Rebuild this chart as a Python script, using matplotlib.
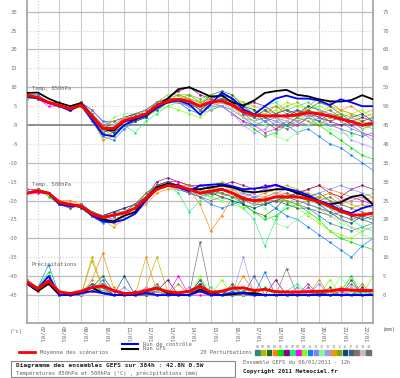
import matplotlib
matplotlib.use("Agg")
import matplotlib.pyplot as plt
from matplotlib.lines import Line2D
from matplotlib.patches import Rectangle

# run hours 0..384 every 12h (06/01 12h -> 22/01 12h)
hours = list(range(0, 385, 12))
days = ['07/01', '08/01', '09/01', '10/01', '11/01', '12/01', '13/01', '14/01',
        '15/01', '16/01', '17/01', '18/01', '19/01', '20/01', '21/01', '22/01']

# --- Temp 850hPa
t850_mean = [7.9, 7.3, 6.0, 5.2, 4.3, 5.3, 2.3, -0.9, -0.9, 1.2, 2.0, 2.9, 5.2, 6.3, 6.8, 6.3, 5.0,
             6.1, 6.4, 5.3, 3.5, 2.6, 2.4, 2.4, 2.4, 2.7, 3.3, 3.0, 2.4, 1.6, 0.9, 0.0, 0.4]
t850_ctrl = [7.5, 7.0, 5.8, 5.0, 3.8, 5.5, 1.5, -2.5, -3.0, 0.0, 1.5, 2.5, 4.5, 6.0, 6.5, 5.5, 2.8,
             5.5, 8.6, 7.0, 4.2, 2.8, 5.0, 7.0, 7.8, 7.0, 7.0, 6.5, 5.3, 6.8, 6.0, 5.0, 5.0]
t850_gfs = [8.5, 8.6, 7.0, 5.8, 5.0, 5.8, 2.5, -1.0, -1.5, 1.0, 1.5, 2.5, 5.0, 7.0, 9.5, 10.0, 8.8,
            7.5, 7.8, 6.0, 5.2, 6.5, 8.5, 9.0, 9.3, 8.0, 7.6, 6.8, 6.3, 6.2, 6.6, 7.9, 6.8]
t850_members = [
    [8, 7, 6, 5, 4, 6, 3, -1, -1, 1, 2, 3, 5, 7, 7, 6, 4, 6, 7, 5, 3, 1, 2, 1, 0, 2, 3, 1, 0, -1, -2, -3, -2],
    [8, 7, 6, 5, 4, 5, 1, -3, -2, 0, 1, 2, 4, 6, 8, 7, 6, 7, 8, 7, 6, 5, 4, 3, 5, 6, 4, 3, 5, 4, 3, 2, 3],
    [8, 7, 6, 5, 5, 5, 2, 0, 0, 2, 3, 3, 6, 7, 6, 5, 5, 8, 9, 8, 5, 3, 1, -1, 0, 2, 4, 6, 5, 3, 1, -1, 0],
    [8, 8, 6, 5, 4, 6, 3, -1, -3, 1, 2, 4, 6, 8, 8, 7, 4, 5, 6, 5, 2, 1, 3, 5, 4, 2, 5, 7, 6, 4, 5, 3, 4],
    [7, 7, 6, 5, 4, 5, 2, -2, -1, 1, 3, 3, 5, 6, 7, 8, 6, 4, 5, 3, 1, -1, -3, -2, 0, 1, 2, 0, -2, -4, -6, -8, -9],
    [8, 7, 6, 6, 5, 6, 4, 1, 1, 2, 3, 4, 6, 7, 9, 10, 8, 7, 8, 6, 5, 6, 5, 3, 2, 4, 3, 2, 1, 0, 1, 2, 1],
    [8, 7, 6, 5, 4, 5, 2, -1, -2, 0, -2, 1, 3, 5, 6, 5, 6, 8, 7, 5, 4, 3, 5, 6, 4, 5, 6, 4, 2, 3, 1, 0, -1],
    [8, 7, 5, 5, 4, 5, 3, 0, -1, 2, 2, 3, 5, 6, 7, 6, 5, 6, 5, 3, 1, 0, -2, -1, 1, 0, 2, 3, 1, 2, 0, -2, -3],
    [8, 7, 6, 5, 5, 6, 3, -2, -3, 0, 1, 2, 4, 5, 4, 3, 2, 4, 6, 7, 6, 4, 3, 4, 6, 5, 4, 5, 4, 2, 3, 4, 2],
    [8, 8, 6, 5, 4, 5, 1, -3, -4, -1, 1, 2, 5, 7, 6, 4, 3, 5, 5, 4, 2, 0, 1, 2, 0, -2, -1, -3, -5, -6, -8, -10, -12],
    [8, 7, 6, 5, 4, 6, 4, 1, 0, 1, 2, 3, 5, 6, 7, 7, 5, 6, 7, 6, 3, 2, 1, 3, 2, 1, 0, 2, 3, 1, -1, -2, -4],
    [8, 7, 6, 5, 4, 5, 2, -1, 2, 3, 3, 4, 6, 8, 8, 6, 4, 5, 6, 4, 2, 1, 0, -3, -4, -2, 0, 1, -1, -2, -3, -1, 0],
    [8, 7, 6, 5, 4, 6, 3, -1, -2, 1, 2, 4, 5, 6, 7, 5, 3, 4, 5, 3, 0, -2, -1, 1, 2, 1, 3, 2, 0, -1, -4, -5, -6],
    [8, 7, 6, 5, 4, 5, 2, -4, -3, 0, 1, 3, 5, 6, 7, 7, 6, 7, 6, 5, 4, 3, 3, 2, 1, 3, 4, 3, 2, 4, 3, 1, 2],
    [8, 7, 6, 5, 4, 5, 3, 0, 1, 2, 2, 3, 5, 7, 8, 8, 7, 8, 7, 6, 4, 2, 4, 5, 3, 2, 1, 0, 2, 3, 2, 1, 0],
    [8, 7, 6, 5, 4, 5, 2, -1, -2, 0, 1, 2, 5, 6, 6, 5, 5, 6, 8, 7, 5, 4, 2, 3, 4, 3, 5, 4, 3, 1, 2, 3, 1],
    [8, 7, 6, 5, 4, 6, 2, -2, -1, 1, 2, 3, 4, 6, 7, 6, 4, 6, 7, 6, 3, 2, 4, 2, 3, 4, 2, 1, 3, 2, 0, 1, 2],
    [8, 7, 6, 5, 4, 6, 3, 0, -1, 1, 3, 4, 6, 7, 7, 6, 5, 7, 6, 5, 3, 3, 2, 0, -1, 0, 2, 3, 4, 2, 1, 0, 1],
    [8, 7, 6, 5, 4, 5, 2, -1, 0, 2, 2, 3, 5, 6, 6, 5, 5, 5, 6, 4, 2, 1, 3, 2, 1, 3, 2, 4, 3, 1, 2, 0, -1],
    [8, 7, 6, 5, 4, 5, 2, -2, -1, 1, 2, 3, 5, 7, 7, 6, 4, 6, 7, 6, 4, 3, 2, 3, 4, 3, 4, 2, 1, 2, 1, 0, 1],
]

# --- Temp 500hPa
t500_mean = [-18, -17.5, -18, -20.5, -21, -21.5, -23.5, -24.5, -23.8, -23.3, -22, -19.5, -17, -16, -16.2,
             -17, -18, -17.5, -17, -18, -19.5, -20, -19.8, -19, -19, -19, -19.5, -20.3, -21.5, -22.8,
             -23.8, -23.8, -23.3]
t500_ctrl = [-18, -17.5, -18.2, -21, -21.5, -21.5, -24, -25.5, -25.8, -25, -23.5, -20, -17, -16, -16.5,
             -17.5, -16, -15.8, -15.6, -16.2, -17, -16.8, -16.5, -15.8, -16.8, -17.5, -18.5, -20, -21,
             -22.5, -23.3, -22, -21.2]
t500_gfs = [-18, -17.5, -18, -20.5, -21, -21.5, -23.5, -25, -25.5, -24, -23, -19.5, -16.5, -15.5, -16,
            -17, -17, -16.5, -16, -16.5, -17.5, -17.8, -17.5, -17, -17, -18, -19, -20.5, -21, -20.5,
            -19, -18.5, -21]
t500_members = [
    [-18, -17, -18, -21, -21, -21, -23, -24, -24, -23, -22, -19, -16, -15, -16, -17, -18, -17, -17, -18, -20, -21, -20, -19, -20, -21, -22, -24, -26, -27, -28, -27, -26],
    [-18, -18, -18, -20, -21, -22, -24, -25, -24, -23, -21, -18, -16, -15, -15, -16, -17, -16, -15, -16, -17, -18, -17, -17, -16, -17, -18, -19, -18, -19, -20, -19, -18],
    [-18, -17, -18, -21, -21, -21, -23, -24, -23, -23, -22, -20, -17, -16, -16, -17, -18, -19, -17, -18, -21, -23, -24, -22, -19, -18, -19, -18, -20, -22, -24, -25, -24],
    [-18, -17, -18, -20, -20, -21, -23, -25, -26, -24, -22, -18, -16, -15, -16, -17, -21, -28, -24, -19, -18, -19, -18, -17, -17, -18, -17, -16, -17, -18, -19, -20, -19],
    [-18, -17, -19, -21, -21, -22, -24, -24, -24, -23, -22, -20, -17, -16, -17, -18, -18, -17, -18, -19, -21, -23, -25, -24, -22, -21, -23, -25, -28, -30, -31, -32, -33],
    [-17, -17, -18, -21, -22, -21, -23, -24, -23, -22, -21, -19, -15, -14, -15, -16, -16, -17, -16, -15, -16, -17, -16, -16, -17, -18, -17, -16, -18, -19, -17, -16, -17],
    [-18, -17, -18, -21, -21, -21, -24, -25, -24, -24, -23, -20, -17, -16, -18, -23, -20, -18, -19, -20, -22, -25, -32, -25, -21, -19, -20, -21, -22, -24, -25, -27, -28],
    [-18, -18, -18, -21, -21, -22, -23, -24, -25, -24, -22, -19, -16, -15, -15, -16, -17, -16, -17, -18, -19, -18, -17, -16, -17, -18, -19, -20, -21, -20, -19, -20, -21],
    [-18, -17, -18, -20, -21, -21, -23, -25, -24, -23, -21, -18, -16, -15, -16, -17, -18, -19, -20, -21, -22, -21, -20, -19, -20, -22, -24, -26, -28, -29, -30, -28, -27],
    [-18, -17, -18, -21, -21, -21, -24, -26, -25, -24, -22, -20, -17, -16, -16, -17, -19, -21, -22, -21, -20, -19, -20, -22, -24, -25, -27, -29, -31, -33, -35, -32, -30],
    [-18, -17, -18, -21, -21, -21, -23, -24, -23, -22, -21, -19, -16, -16, -17, -18, -17, -16, -17, -18, -18, -19, -19, -18, -17, -18, -19, -18, -17, -16, -17, -18, -19],
    [-18, -17, -18, -21, -21, -22, -23, -24, -24, -23, -22, -20, -17, -16, -16, -17, -18, -19, -20, -19, -18, -20, -22, -26, -27, -25, -23, -22, -24, -26, -27, -29, -30],
    [-18, -17, -18, -21, -21, -21, -23, -25, -25, -24, -22, -19, -16, -15, -16, -17, -16, -16, -17, -17, -18, -18, -17, -18, -19, -20, -21, -22, -23, -21, -20, -19, -21],
    [-18, -17, -18, -20, -21, -21, -24, -25, -27, -25, -23, -21, -18, -17, -17, -17, -18, -17, -16, -17, -19, -20, -19, -18, -18, -19, -20, -19, -18, -20, -21, -22, -20],
    [-18, -17, -18, -21, -21, -21, -23, -24, -24, -23, -22, -20, -17, -16, -16, -16, -17, -18, -18, -19, -19, -20, -21, -20, -20, -21, -20, -19, -20, -21, -22, -21, -22],
    [-18, -17, -18, -21, -21, -22, -24, -24, -23, -22, -21, -19, -16, -15, -16, -17, -18, -18, -19, -20, -21, -22, -21, -20, -19, -18, -19, -21, -23, -25, -26, -24, -25],
    [-18, -17, -18, -21, -21, -21, -23, -25, -24, -23, -22, -19, -17, -16, -16, -18, -19, -18, -17, -18, -20, -21, -21, -20, -21, -22, -22, -23, -24, -23, -24, -25, -26],
    [-18, -17, -18, -20, -21, -21, -23, -24, -24, -23, -21, -18, -16, -16, -17, -18, -19, -20, -19, -18, -19, -20, -20, -19, -18, -19, -20, -20, -19, -21, -22, -23, -24],
    [-18, -17, -18, -21, -21, -21, -24, -25, -25, -24, -22, -20, -17, -16, -17, -17, -18, -17, -17, -18, -20, -21, -20, -19, -19, -20, -21, -22, -24, -25, -27, -28, -27],
    [-18, -17, -18, -21, -22, -21, -23, -24, -24, -23, -22, -19, -16, -16, -16, -17, -18, -18, -18, -19, -20, -20, -20, -20, -19, -20, -21, -22, -23, -24, -25, -24, -23],
]

# --- Precipitations (mm)
pr_mean = [3.4, 1.6, 3.7, 0.8, 0.4, 1.0, 2.0, 2.4, 1.2, 0.4, 0.5, 1.2, 1.8, 0.9, 0.6, 1.0, 2.3,
           0.7, 1.0, 1.8, 1.9, 1.2, 1.5, 0.9, 0.8, 0.8, 0.9, 1.0, 1.1, 1.5, 1.3, 1.2, 1.2]
pr_ctrl = [3, 1.5, 5, 0, 0, 0.5, 1, 0.5, 0, 0, 0, 0.5, 0, 0, 0, 0, 1, 0, 0, 0.5, 0.5, 0, 0, 0, 0,
           0, 0, 0, 0, 0, 0, 0, 0]
pr_gfs = [3, 1, 3, 0, 0, 0.5, 2, 0.5, 0, 0, 0, 1, 2, 0.5, 0, 0, 1.5, 0.5, 0, 0.2, 0.5, 0.5, 0, 0, 0,
          0, 0, 0.2, 0, 0, 0, 0, 0]
pr_members = [
    [3, 2, 5, 0, 0, 1, 3, 1, 0, 0, 0, 1, 2, 0, 0, 0, 4, 0, 0, 1, 0, 0, 0, 0, 0, 0, 0, 0, 1, 0, 0, 0, 0],
    [3, 1, 4, 0, 0, 0, 10, 2, 0, 0, 0, 2, 10, 1, 0, 0, 2, 0, 1, 0, 2, 0, 0, 0, 0, 1, 0, 0, 0, 0, 0, 1, 0],
    [4, 2, 4, 1, 0, 1, 2, 5, 1, 0, 0, 0, 1, 0, 0, 0, 2, 1, 0, 3, 0, 0, 0, 0, 1, 0, 0, 0, 2, 0, 4, 0, 0],
    [3, 1, 3, 0, 0, 0, 4, 11, 2, 0, 0, 0, 2, 0, 0, 1, 3, 0, 0, 0, 5, 1, 0, 0, 0, 0, 0, 0, 0, 2, 0, 0, 0],
    [3, 2, 6, 0, 0, 1, 1, 2, 0, 0, 0, 1, 0, 0, 0, 0, 1, 0, 0, 1, 0, 0, 2, 0, 0, 0, 0, 0, 0, 1, 5, 0, 1],
    [4, 1, 3, 0, 0, 0, 2, 1, 0, 0, 1, 0, 1, 4, 0, 0, 3, 0, 0, 0, 1, 0, 0, 4, 0, 0, 0, 1, 0, 0, 0, 2, 0],
    [3, 2, 4, 0, 0, 1, 3, 2, 0, 0, 0, 1, 2, 0, 0, 0, 1, 2, 0, 0, 0, 0, 0, 0, 1, 3, 0, 0, 0, 0, 1, 0, 0],
    [3, 1, 5, 0, 0, 0, 1, 3, 1, 0, 0, 2, 0, 0, 5, 0, 0, 0, 0, 0, 0, 0, 0, 0, 0, 0, 2, 0, 0, 1, 0, 0, 0],
    [3, 2, 4, 1, 0, 0, 2, 1, 0, 0, 0, 0, 2, 1, 0, 0, 5, 0, 4, 0, 0, 0, 0, 1, 0, 0, 0, 0, 4, 0, 0, 0, 5],
    [4, 2, 8, 0, 0, 1, 1, 4, 0, 0, 0, 1, 1, 0, 0, 0, 2, 0, 0, 1, 0, 0, 6, 0, 0, 0, 0, 0, 0, 0, 0, 1, 0],
    [3, 1, 4, 0, 0, 0, 3, 2, 0, 2, 0, 1, 0, 0, 0, 2, 1, 0, 0, 0, 0, 0, 0, 0, 0, 2, 0, 3, 0, 0, 0, 0, 0],
    [3, 2, 3, 0, 0, 1, 2, 3, 0, 0, 0, 0, 2, 0, 0, 0, 3, 0, 0, 0, 2, 0, 0, 0, 0, 0, 1, 0, 0, 5, 0, 0, 1],
    [3, 1, 5, 0, 0, 0, 2, 1, 1, 0, 0, 0, 1, 0, 0, 0, 2, 0, 0, 0, 10, 0, 0, 0, 0, 0, 0, 0, 0, 0, 2, 0, 0],
    [4, 2, 4, 0, 0, 0, 9, 2, 0, 0, 0, 10, 1, 0, 0, 0, 1, 0, 1, 0, 0, 0, 0, 0, 0, 0, 0, 4, 0, 0, 0, 0, 0],
    [3, 1, 3, 0, 0, 1, 1, 2, 0, 0, 0, 0, 2, 0, 3, 0, 2, 0, 0, 0, 0, 1, 0, 0, 0, 0, 0, 0, 1, 0, 0, 3, 0],
    [3, 2, 5, 0, 0, 0, 2, 1, 0, 5, 0, 1, 0, 0, 0, 0, 3, 0, 0, 2, 0, 0, 0, 0, 0, 0, 0, 0, 0, 0, 0, 0, 0],
    [3, 1, 4, 1, 0, 0, 3, 2, 0, 0, 0, 0, 1, 0, 0, 0, 4, 0, 0, 0, 0, 5, 0, 0, 0, 0, 0, 0, 0, 0, 0, 0, 0],
    [4, 2, 4, 0, 0, 1, 1, 3, 0, 0, 0, 0, 0, 0, 0, 0, 1, 1, 0, 0, 0, 0, 0, 0, 7, 0, 0, 0, 0, 0, 0, 0, 0],
    [3, 1, 4, 0, 0, 0, 2, 1, 0, 0, 0, 2, 1, 0, 0, 0, 2, 0, 0, 0, 0, 0, 0, 0, 0, 0, 0, 0, 0, 0, 0, 0, 0],
    [3, 2, 5, 0, 0, 1, 2, 2, 0, 0, 0, 0, 3, 0, 0, 0, 14, 0, 0, 0, 1, 0, 0, 0, 0, 0, 3, 0, 0, 0, 3, 0, 0],
]

member_colors = ['#2a8a8a', '#b8b800', '#1e6e1e', '#ff8000', '#00e000', '#8a008a', '#20f080',
                 '#ff00ff', '#80ff00', '#1080ff', '#8080ff', '#80ff80', '#a890ff', '#e0a000',
                 '#88a800', '#005070', '#406080', '#906870', '#c0c0c0', '#707070']

PR_OFFSET = 45  # precip 0 mm sits on the -45 line of the temperature axis

W, H = 400, 378
fig = plt.figure(figsize=(W / 100, H / 100), dpi=100)
ax = fig.add_axes([27 / W, 55 / H, 346 / W, 323 / H])
ax.set_xlim(0, 384)
ax.set_ylim(-52.4, 33.1)

# grid
for k, h in enumerate(range(12, 384, 24)):
    ax.axvline(h, color='#cccccc', lw=0.8, ls=':' if k == 0 else '-', zorder=0)
for v in range(-45, 31, 5):
    if v == 0:
        ax.axhline(v, color='#8c8c8c', lw=1.4, zorder=0)
    elif v % 10 == 0 or v == -45:
        ax.axhline(v, color='#bcbcbc', lw=0.9, zorder=0)
    else:
        ax.axhline(v, color='#d2d2d2', lw=0.8, ls=':', zorder=0)

# perturbations
for i in range(20):
    c = member_colors[i]
    ax.plot(hours, t850_members[i], color=c, lw=0.45, marker='o', ms=0.8, zorder=2)
    ax.plot(hours, t500_members[i], color=c, lw=0.45, marker='o', ms=0.8, zorder=2)
    ax.plot(hours, [p - PR_OFFSET for p in pr_members[i]], color=c, lw=0.45, marker='o', ms=0.8, zorder=2)

# GFS, control, mean
for ser, col, lw in [(t850_gfs, 'black', 1.3), (t850_ctrl, '#0000ff', 1.3), (t850_mean, '#ff0000', 2.1)]:
    ax.plot(hours, ser, color=col, lw=lw, zorder=4)
for ser, col, lw in [(t500_gfs, 'black', 1.3), (t500_ctrl, '#0000ff', 1.3), (t500_mean, '#ff0000', 2.1)]:
    ax.plot(hours, ser, color=col, lw=lw, zorder=4)
for ser, col, lw in [(pr_gfs, 'black', 1.3), (pr_ctrl, '#0000ff', 1.3), (pr_mean, '#ff0000', 2.1)]:
    ax.plot(hours, [p - PR_OFFSET for p in ser], color=col, lw=lw, zorder=4)

# axes frame
ax.spines['top'].set_visible(False)
for s in ['left', 'bottom', 'right']:
    ax.spines[s].set_color('#a0a0a0')
    ax.spines[s].set_linewidth(1.2)

left_ticks = list(range(-45, 31, 5))
ax.set_yticks(left_ticks)
ax.set_yticklabels([str(t) for t in left_ticks], fontsize=4, color='#777777', family='DejaVu Sans Mono')
ax.tick_params(axis='y', length=0, pad=7)
ax.set_xticks([])

ax2 = ax.twinx()
ax2.set_ylim(ax.get_ylim())
ax2.set_yticks(left_ticks)
ax2.set_yticklabels([str(t + PR_OFFSET) for t in left_ticks], fontsize=4, color='#777777', family='DejaVu Sans Mono')
ax2.tick_params(axis='y', length=0, pad=7)
for s in ax2.spines.values():
    s.set_visible(False)

txt = dict(family='DejaVu Sans Mono', color='#666666', fontsize=4)
ax.text(5, 9.0, 'Temp. 850hPa', va='bottom', ha='left', **txt)
ax.text(5, -16.5, 'Temp. 500hPa', va='bottom', ha='left', **txt)
ax.text(5, -37.5, 'Précipitations', va='bottom', ha='left', **txt)


def fx(x, y):
    return x / W, 1 - y / H


# date labels under the axis
for k, d in enumerate(days):
    h = 12 + 24 * k
    ax.annotate(d, xy=(h, 0), xycoords=('data', 'axes fraction'), xytext=(2.5, -2),
                textcoords='offset points', rotation=270, ha='center', va='top', **txt)

fig.text(*fx(10, 331), '(°c)', ha='left', va='center', **txt)
fig.text(*fx(383, 330), '(mm)', ha='left', va='center', **txt)

# legend
fig.add_artist(Line2D([19 / W, 35 / W], [1 - 352 / H] * 2, color='#ff0000', lw=2.0))
fig.text(*fx(40, 352), 'Moyenne des scénarios', ha='left', va='center', **txt)
fig.add_artist(Line2D([122 / W, 138 / W], [1 - 344 / H] * 2, color='#0000ff', lw=1.5))
fig.text(*fx(143, 344), 'Run de contrôle', ha='left', va='center', **txt)
fig.add_artist(Line2D([122 / W, 138 / W], [1 - 349 / H] * 2, color='black', lw=1.5))
fig.text(*fx(143, 349), 'Run GFS', ha='left', va='center', **txt)
fig.text(*fx(200, 352), '20 Perturbations', ha='left', va='center', **txt)
for i, c in enumerate(member_colors):
    x0 = 255 + i * 5.85
    fig.add_artist(Rectangle((x0 / W, 1 - 354.5 / H), 4.6 / W, 4.5 / H, color=c, transform=fig.transFigure))
    fig.text(*fx(x0 + 2.3, 346.5), '%02d' % (i + 1), ha='center', va='center',
             family='DejaVu Sans Mono', color='#777777', fontsize=2.4)

# title box
fig.add_artist(Rectangle((11 / W, 1 - 377 / H), 224 / W, 16 / H, fill=False, edgecolor='#888888',
                         lw=0.8, transform=fig.transFigure))
fig.text(*fx(16, 366), 'Diagramme des ensembles GEFS sur 384h : 42.8N 0.5W', ha='left', va='center',
         family='DejaVu Sans Mono', fontweight='bold', color='#222222', fontsize=4.4)
fig.text(*fx(16, 373), 'Températures 850hPa et 500hPa (°C) , précipitations (mm)', ha='left', va='center',
         **txt)
fig.text(*fx(243, 362), 'Ensemble GEFS du 06/01/2011 - 12h', ha='left', va='center', **txt)
fig.text(*fx(243, 372), 'Copyright 2011 Meteociel.fr', ha='left', va='center',
         family='DejaVu Sans Mono', fontweight='bold', color='#222222', fontsize=4.2)

fig.savefig('out.png', dpi=100)
